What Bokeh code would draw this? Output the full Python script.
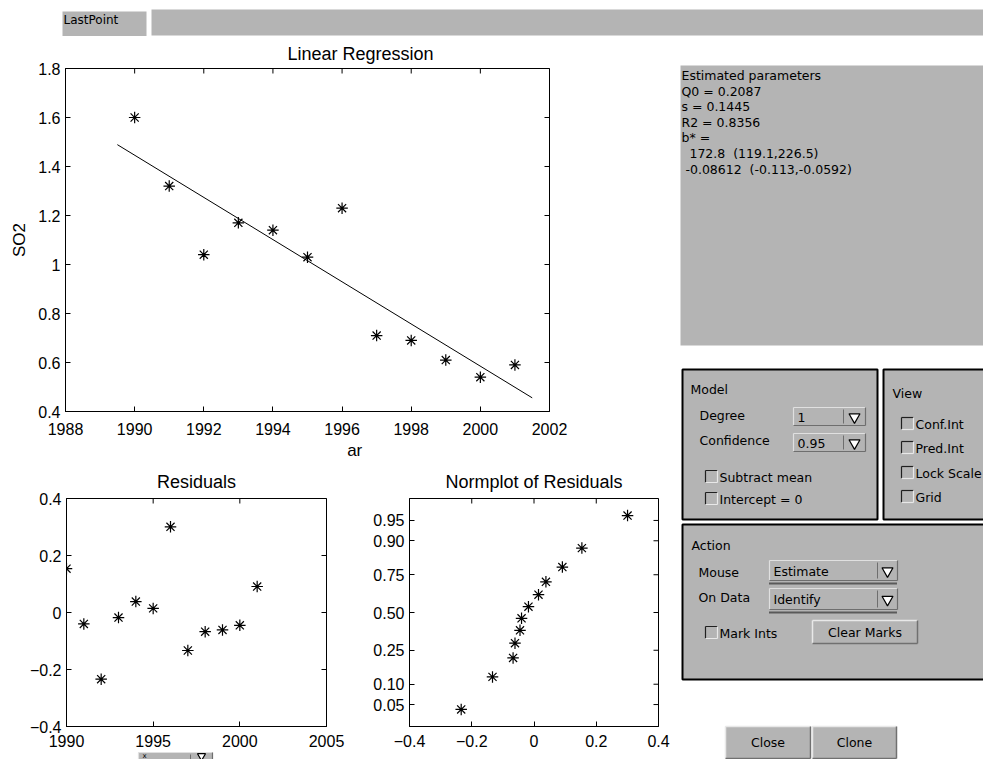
import numpy as np
from statistics import NormalDist
from bokeh.plotting import figure
from bokeh.models import Range1d, FixedTicker, Title
from bokeh.layouts import row, column
from bokeh.embed import file_html
from bokeh.resources import INLINE
from bokeh.core.properties import value

# ---------------- data ----------------
years = [1990, 1991, 1992, 1993, 1994, 1995, 1996, 1997, 1998, 1999, 2000, 2001]
so2 = [1.60, 1.32, 1.04, 1.17, 1.14, 1.03, 1.23, 0.71, 0.69, 0.61, 0.54, 0.59]
fit_span = [1989.5, 2001.5]

main_xticks = [1988, 1990, 1992, 1994, 1996, 1998, 2000, 2002]
main_yticks = [0.4, 0.6, 0.8, 1.0, 1.2, 1.4, 1.6, 1.8]
main_ylabels = ["0.4", "0.6", "0.8", "1", "1.2", "1.4", "1.6", "1.8"]
resid_xticks = [1990, 1995, 2000, 2005]
resid_yticks = [-0.4, -0.2, 0.0, 0.2, 0.4]
resid_ylabels = ["\u22120.4", "\u22120.2", "0", "0.2", "0.4"]
norm_xticks = [-0.4, -0.2, 0.0, 0.2, 0.4]
norm_xlabels = ["\u22120.4", "\u22120.2", "0", "0.2", "0.4"]
norm_probs = [0.05, 0.10, 0.25, 0.50, 0.75, 0.90, 0.95]
norm_plabels = ["0.05", "0.10", "0.25", "0.50", "0.75", "0.90", "0.95"]

param_lines = [
    "Estimated parameters",
    "Q0 = 0.2087",
    "s = 0.1445",
    "R2 = 0.8356",
    "b* =",
    "\u00a0\u00a0172.8\u00a0\u00a0(119.1,226.5)",
    "\u00a0-0.08612\u00a0\u00a0(-0.113,-0.0592)",
]

# ---------------- computations ----------------
xa = np.array(years, dtype=float)
ya = np.array(so2)
slope, intercept = np.polyfit(xa, ya, 1)
resid = ya - (intercept + slope * xa)
n = len(resid)
nd = NormalDist()
sorted_res = np.sort(resid)
qq = [nd.inv_cdf((i + 0.5) / n) for i in range(n)]
qlim = nd.inv_cdf(1 - 0.25 / n)
norm_yticks = [nd.inv_cdf(pv) for pv in norm_probs]

PLOT_FONT = "Liberation Sans"
GUI_FONT = "DejaVu Sans"
GUI_SIZE = "12.5px"
GRAY = "#b4b4b4"


def style_axis(ax, ticks, labels=None, standoff=6):
    ax.ticker = FixedTicker(ticks=list(ticks))
    ax.axis_line_color = "black"
    ax.major_tick_line_color = "black"
    ax.major_tick_in = 5
    ax.major_tick_out = 0
    ax.minor_tick_line_color = None
    ax.major_label_text_font = PLOT_FONT
    ax.major_label_text_font_size = "16px"
    ax.major_label_text_color = "black"
    ax.major_label_standoff = standoff
    if labels is not None:
        ax.major_label_overrides = {float(t): l for t, l in zip(ticks, labels)}


def make_plot(width, height, borders, xr, yr, xticks, yticks, xlabels=None, ylabels=None,
              xstand=9):
    l, r, t, b = borders
    p = figure(width=width, height=height, x_range=Range1d(*xr), y_range=Range1d(*yr),
               output_backend="svg", toolbar_location=None, tools="",
               min_border_left=l, min_border_right=r, min_border_top=t, min_border_bottom=b,
               background_fill_color="white", border_fill_color="white",
               outline_line_color="black", outline_line_width=1)
    p.grid.visible = False
    style_axis(p.xaxis[0], xticks, xlabels, xstand)
    style_axis(p.yaxis[0], yticks, ylabels, 5)
    # box ticks on the top and right edges (half of each dash is clipped by the frame)
    p.scatter(x=list(xticks), y=[yr[1]] * len(xticks), marker="dash", angle=np.pi / 2,
              size=10, line_color="black", line_width=1)
    p.scatter(x=[xr[1]] * len(yticks), y=list(yticks), marker="dash",
              size=10, line_color="black", line_width=1)
    return p


def set_title(p, text, standoff, align="center", offset=0):
    p.title = Title(text=text, align=align, offset=offset, text_font=PLOT_FONT,
                    text_font_size="18px", text_font_style="normal", text_color="black",
                    text_line_height=0.5, standoff=standoff)


STAR = dict(marker="asterisk", size=11.5, line_color="black", line_width=1.2)

# ---------------- main regression plot ----------------
pm = make_plot(670, 426, (65, 121, 32, 50), (1988, 2002), (0.4, 1.8),
               main_xticks, main_yticks, None, main_ylabels, xstand=11)
set_title(pm, "Linear Regression", 10, "left", 222)
ya_ax = pm.yaxis[0]
ya_ax.axis_label = "SO2"
ya_ax.axis_label_text_font = PLOT_FONT
ya_ax.axis_label_text_font_size = "17px"
ya_ax.axis_label_text_font_style = "normal"
ya_ax.axis_label_text_color = "black"
ya_ax.axis_label_standoff = 6
xa_ax = pm.xaxis[0]
xa_ax.axis_label = "\u00a0" * 20 + "ar"
xa_ax.axis_label_text_font = PLOT_FONT
xa_ax.axis_label_text_font_size = "17px"
xa_ax.axis_label_text_font_style = "normal"
xa_ax.axis_label_text_color = "black"
xa_ax.axis_label_standoff = 3
fx = np.array(fit_span)
pm.line(fx, intercept + slope * fx, line_color="black", line_width=1)
pm.scatter(years, so2, **STAR)

# ---------------- residuals ----------------
pr = make_plot(360, 287, (66, 34, 35, 22), (1990, 2005), (-0.4, 0.4),
               resid_xticks, resid_yticks, None, resid_ylabels, xstand=8)
set_title(pr, "Residuals", 13)
pr.scatter(years, list(resid), **STAR)

# ---------------- normal probability plot ----------------
pn = make_plot(310, 287, (49, 12, 36, 21), (-0.4, 0.4), (-qlim, qlim),
               norm_xticks, norm_yticks, norm_xlabels, norm_plabels, xstand=8)
set_title(pn, "Normplot of Residuals", 14)
pn.scatter(list(sorted_res), qq, **STAR)


# ---------------- GUI canvases ----------------
def canvas(w, h, x0=0, x1=None, borders=(0, 0)):
    x1 = w if x1 is None else x1
    p = figure(width=w, height=h, x_range=Range1d(x0, x1), y_range=Range1d(h, 0),
               output_backend="svg", toolbar_location=None, tools="",
               x_axis_location=None, y_axis_location=None, min_border=0,
               min_border_left=borders[0], min_border_right=borders[1],
               outline_line_color=None, background_fill_color="white",
               border_fill_color="white")
    p.grid.visible = False
    return p


class Gui:
    def __init__(self, p, ox, oy):
        self.p, self.ox, self.oy = p, ox, oy

    def box(self, x0, x1, y0, y1, fill=GRAY, line=None, lw=1):
        self.p.quad(left=[x0 - self.ox], right=[x1 - self.ox], top=[y0 - self.oy],
                    bottom=[y1 - self.oy], fill_color=fill, line_color=line, line_width=lw)

    def text(self, x, y, s, align="left", size=GUI_SIZE):
        self.p.text(x=[x - self.ox], y=[y - self.oy], text=[s], text_font=value(GUI_FONT),
                    text_font_size=value(size), text_align=align, text_baseline="middle",
                    text_color="black")

    def bevel(self, x0, x1, y0, y1, light, dark, lw=1):
        X0, X1, Y0, Y1 = x0 - self.ox, x1 - self.ox, y0 - self.oy, y1 - self.oy
        self.p.multi_line(xs=[[X0, X1], [X0, X0]], ys=[[Y0, Y0], [Y0, Y1]],
                          line_color=light, line_width=lw)
        self.p.multi_line(xs=[[X0, X1], [X1, X1]], ys=[[Y1, Y1], [Y0, Y1]],
                          line_color=dark, line_width=lw)

    def button(self, x0, x1, y0, y1, label):
        self.box(x0, x1, y0, y1)
        self.bevel(x0, x1, y0, y1, "#e8e8e8", "#707070", 1.5)
        self.text((x0 + x1) / 2, (y0 + y1) / 2, label, "center")

    def checkbox(self, x0, y0, label):
        self.box(x0, x0 + 12, y0, y0 + 12)
        self.bevel(x0, x0 + 12, y0, y0 + 12, "#202020", "#e8e8e8", 1.2)
        self.text(x0 + 14, y0 + 6.5, label)

    def dropdown(self, x0, x1, y0, y1, xdiv, label, dotted=False, size=GUI_SIZE, ty=None,
                 tri=11):
        self.box(x0, x1, y0, y1)
        self.bevel(x0, x1, y0, y1, "#e0e0e0", "#6e6e6e", 1.2)
        self.p.multi_line(xs=[[xdiv - self.ox, xdiv - self.ox]],
                          ys=[[y0 + 2 - self.oy, y1 - 2 - self.oy]],
                          line_color="#6e6e6e", line_width=1)
        cy = (y0 + y1) / 2 + 0.5 if ty is None else ty
        self.p.scatter(x=[(xdiv + x1) / 2 - self.ox], y=[cy - self.oy],
                       marker="inverted_triangle", size=tri, fill_color="white",
                       line_color="black", line_width=1.2)
        self.text(x0 + 4, cy, label, size=size)
        if dotted:
            self.p.multi_line(xs=[[x0 - self.ox, x1 - self.ox]],
                              ys=[[y1 + 3 - self.oy, y1 + 3 - self.oy]],
                              line_color="black", line_width=2, line_dash="1 1")


# top strip
pt = canvas(983, 36)
gt = Gui(pt, 0, 0)
gt.box(62, 146, 11, 36)
gt.box(151, 990, 9, 35)
gt.text(63, 19.5, "LastPoint", size="12px")

# right GUI column
pg = canvas(313, 723)
g = Gui(pg, 670, 36)
g.box(680, 990, 65, 345)
for i, s in enumerate(param_lines):
    g.text(681, 75 + 15.6 * i, s)

g.box(682, 877, 369, 519, line="black", lw=2)
g.text(690, 389, "Model")
g.text(699, 415, "Degree")
g.text(699, 440, "Confidence")
g.dropdown(793, 865, 407, 425, 843, "1")
g.dropdown(793, 865, 433, 451, 843, "0.95")
g.checkbox(705, 470, "Subtract mean")
g.checkbox(705, 492, "Intercept = 0")

g.box(883, 995, 369, 519, line="black", lw=2)
g.text(892, 393, "View")
g.checkbox(901, 417, "Conf.Int")
g.checkbox(901, 441, "Pred.Int")
g.checkbox(901, 466, "Lock Scale")
g.checkbox(901, 490, "Grid")

g.box(682, 995, 524, 679, line="black", lw=2)
g.text(691, 545, "Action")
g.text(698, 572, "Mouse")
g.text(698, 597, "On Data")
g.dropdown(769, 897, 560, 580, 877, "Estimate", dotted=True)
g.dropdown(769, 897, 588, 609, 877, "Identify", dotted=True)
g.checkbox(705, 626, "Mark Ints")
g.button(812, 917, 620, 643, "Clear Marks")

g.button(725, 810, 726, 758, "Close")
g.button(812, 896, 726, 758, "Clone")

# bottom strip (x selector, mostly below the visible window); frame matches the main plot's
ps = canvas(670, 10, 65, 549, borders=(65, 121))
gs = Gui(ps, 0, 749)
gs.dropdown(138, 212, 750, 766, 190, "x", size="7px", ty=753.5, tri=8)

left_col = column(pm, row(pr, pn), ps)
layout = column(pt, row(left_col, pg))

open("out.html", "w").write(file_html(layout, INLINE))
